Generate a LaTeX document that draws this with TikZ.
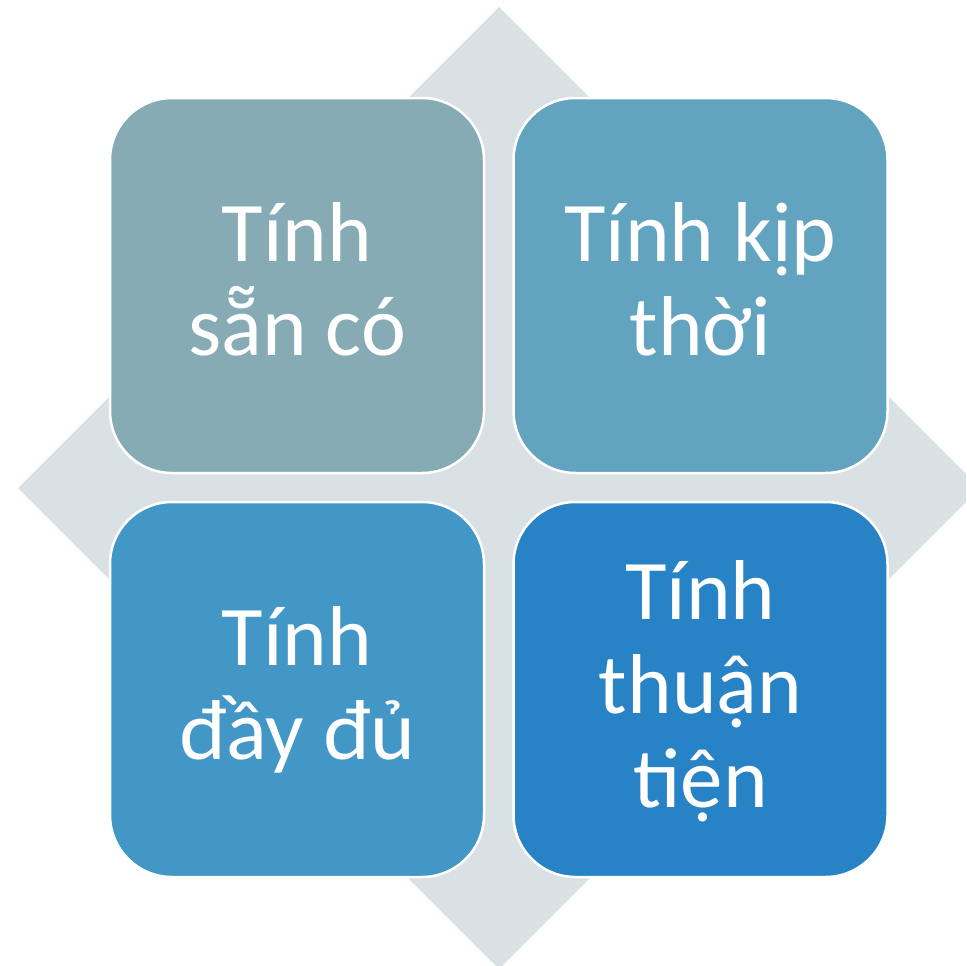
\documentclass[tikz,border=0pt]{standalone}
\usepackage{fontspec}
\setmainfont{Carlito}
\definecolor{dgray}{RGB}{217,225,228}
\definecolor{cA}{RGB}{134,171,181}
\definecolor{cB}{RGB}{98,164,191}
\definecolor{cC}{RGB}{66,151,198}
\definecolor{cD}{RGB}{40,131,198}
\begin{document}
\begin{tikzpicture}[x=1pt,y=-1pt]
\tikzset{tile/.style={draw=white, line width=2.5pt, rounded corners=62pt,
  minimum width=374pt, minimum height=375pt, inner sep=0pt, text=white,
  align=center, font=\fontsize{85}{94}\selectfont, text depth=0pt}}
\useasboundingbox (0,0) rectangle (966,966);
\clip (0,0) rectangle (966,966);
\fill[dgray] (499,7) -- (980,488) -- (499,969) -- (18,488) -- cycle;
\node[tile, fill=cA, text height=139pt] (a) at (297,285.5) {Tính\\sẵn có};
\node[tile, fill=cB, text height=139pt] (b) at (700.5,285.5) {Tính kịp\\thời};
\node[tile, fill=cC, text height=139pt] (c) at (297,689.5) {Tính\\đầy đủ};
\node[tile, fill=cD, text height=235pt] (d) at (700.5,689.5) {Tính\\thuận\\tiện};
\end{tikzpicture}
\end{document}
